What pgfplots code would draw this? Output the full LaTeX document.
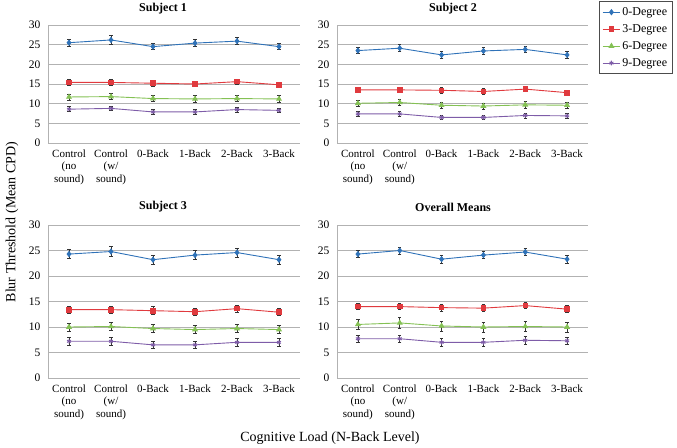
\documentclass[border=0pt]{standalone}
\usepackage{pgfplots}
\usepackage{pgfplotstable}
\pgfplotsset{compat=1.18}
\usepackage{fontspec}
\setmainfont{Liberation Serif}

\definecolor{cblue}{HTML}{2F72B8}
\definecolor{cred}{HTML}{E03A3E}
\definecolor{cgreen}{HTML}{84C154}
\definecolor{cpurple}{HTML}{7E5CA8}

% columns: category, mean and error for 0/3/6/9 degree
\pgfplotstableread{
x a  ea  b    eb  c    ec  d   ed
0 25.5 0.9 15.4 0.7 11.7 0.8 8.6 0.6
1 26.2 1.1 15.4 0.7 11.8 0.8 8.8 0.6
2 24.5 0.8 15.2 0.7 11.3 0.8 7.9 0.6
3 25.4 0.9 15.0 0.7 11.2 0.8 7.9 0.6
4 25.9 0.9 15.6 0.7 11.3 0.8 8.5 0.6
5 24.5 0.8 14.8 0.7 11.2 0.8 8.3 0.6
}\subjA
\pgfplotstableread{
x a  ea  b    eb  c    ec  d   ed
0 23.5 0.8 13.5 0.6 10.1 0.8 7.4 0.6
1 24.1 0.9 13.5 0.6 10.3 0.8 7.4 0.6
2 22.4 0.9 13.4 0.7 9.6 0.8 6.5 0.6
3 23.4 0.8 13.1 0.7 9.4 0.8 6.5 0.6
4 23.8 0.8 13.7 0.6 9.7 0.8 7.0 0.6
5 22.4 0.8 12.8 0.7 9.6 0.8 6.9 0.6
}\subjB
\pgfplotstableread{
x a  ea  b    eb  c    ec  d   ed
0 24.3 0.9 13.4 0.7 10.0 0.8 7.2 0.7
1 24.8 1.0 13.4 0.7 10.1 0.8 7.2 0.7
2 23.2 0.9 13.2 0.8 9.7 0.8 6.5 0.7
3 24.1 0.9 13.0 0.7 9.5 0.8 6.5 0.7
4 24.6 0.9 13.6 0.7 9.7 0.8 7.0 0.7
5 23.2 0.9 12.9 0.7 9.5 0.8 7.0 0.7
}\subjC
\pgfplotstableread{
x a  ea  b    eb  c    ec  d   ed
0 24.3 0.7 14.0 0.6 10.5 1.0 7.7 0.7
1 25.0 0.7 14.0 0.6 10.8 1.1 7.7 0.7
2 23.3 0.8 13.8 0.7 10.2 1.0 7.0 0.7
3 24.1 0.7 13.7 0.7 10.0 1.0 7.0 0.7
4 24.7 0.7 14.2 0.6 10.1 1.0 7.4 0.7
5 23.3 0.8 13.5 0.7 10.0 1.0 7.3 0.7
}\subjD

\pgfplotsset{
  panel/.style={
    scale only axis, width=252pt,
    xmin=-0.5, xmax=5.5, ymin=0, ymax=30,
    xtick={0,...,5}, ytick={0,5,...,30},
    xticklabels={{Control\\(no\\sound)},{Control\\(w/\\sound)},0-Back,1-Back,2-Back,3-Back},
    xticklabel style={align=center, font=\fontsize{11}{12.5}\selectfont, yshift=-3pt},
    yticklabel style={font=\fontsize{11.5}{13}\selectfont, xshift=-4pt},
    /pgf/number format/assume math mode=true,
    ymajorgrids, grid style={draw=black!30, line width=0.6pt},
    axis lines=left, axis line style={-, draw=black!30, line width=0.6pt},
    major tick length=0pt,
    every axis plot/.append style={line width=0.9pt},
    error bars/error bar style={draw=black!80, line width=0.65pt},
    error bars/error mark options={rotate=90, mark size=1.7pt, draw=black!80, line width=0.65pt},
  },
  s0/.style={color=cblue, mark=diamond*, mark size=2.5pt},
  s3/.style={color=cred, mark=square*, mark size=2.3pt},
  s6/.style={color=cgreen, mark=triangle*, mark size=2.6pt},
  s9/.style={color=cpurple, mark=asterisk, mark size=2.3pt},
}

\newcommand{\series}[1]{%
  \addplot[s0, error bars/.cd, y dir=both, y explicit] table[x=x, y=a, y error=ea] {#1};
  \addplot[s3, error bars/.cd, y dir=both, y explicit] table[x=x, y=b, y error=eb] {#1};
  \addplot[s6, error bars/.cd, y dir=both, y explicit] table[x=x, y=c, y error=ec] {#1};
  \addplot[s9, error bars/.cd, y dir=both, y explicit] table[x=x, y=d, y error=ed] {#1};
}

\begin{document}
\begin{tikzpicture}
\useasboundingbox (0pt,0pt) rectangle (677pt,-447pt);

\begin{axis}[panel, height=118pt, at={(48pt,-143pt)}, anchor=south west]
\series{\subjA}
\end{axis}

\begin{axis}[panel, width=251pt, height=118pt, at={(337pt,-143pt)}, anchor=south west,
  legend style={at={(1.044,1.203)}, anchor=north west, draw=black!70, line width=0.8pt,
    font=\fontsize{12}{14}\selectfont, inner xsep=3pt, inner ysep=4pt, row sep=3.5pt,
    legend cell align=left},
  legend image code/.code={\draw[#1, line width=1pt] (0pt,0pt) -- (17pt,0pt);
    \draw[#1, mark repeat=2, mark phase=2] plot coordinates {(0pt,0pt) (8.5pt,0pt) (17pt,0pt)};},
  ]
\series{\subjB}
\legend{0-Degree, 3-Degree, 6-Degree, 9-Degree}
\end{axis}

\begin{axis}[panel, height=153pt, at={(48pt,-378pt)}, anchor=south west]
\series{\subjC}
\end{axis}

\begin{axis}[panel, width=251pt, height=153pt, at={(337pt,-378pt)}, anchor=south west]
\series{\subjD}
\end{axis}

\node[font=\fontsize{12}{14}\selectfont\bfseries] at (163pt,-9pt) {Subject 1};
\node[font=\fontsize{12}{14}\selectfont\bfseries] at (453pt,-9pt) {Subject 2};
\node[font=\fontsize{12}{14}\selectfont\bfseries] at (163pt,-207pt) {Subject 3};
\node[font=\fontsize{12}{14}\selectfont\bfseries] at (453pt,-207pt) {Overall Means};
\node[font=\fontsize{14}{16}\selectfont, rotate=90] at (12pt,-222pt) {Blur Threshold (Mean CPD)};
\node[font=\fontsize{14}{16}\selectfont] at (330pt,-438pt) {Cognitive Load (N-Back Level)};
\end{tikzpicture}
\end{document}
